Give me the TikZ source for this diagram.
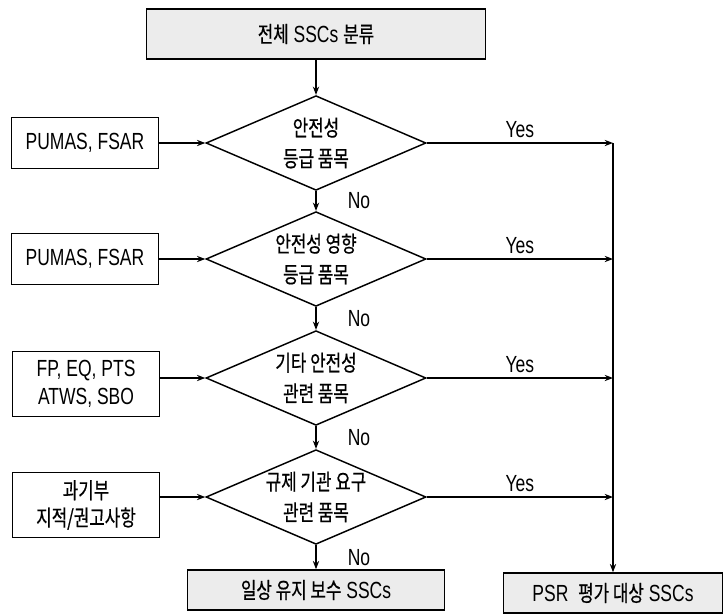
\documentclass[tikz,border=0pt]{standalone}
\usepackage{fontspec}
\setmainfont[FakeStretch=0.75]{Liberation Sans}
\newfontfamily\krfont[FakeStretch=0.76,Scale=0.95,FakeBold=0.6]{Noto Sans CJK KR}
\newcommand{\kr}[1]{{\krfont #1}}
\usetikzlibrary{arrows.meta, shapes.geometric}

\begin{document}
\begin{tikzpicture}[x=0.75pt, y=-0.75pt, >={Stealth[length=2.2mm]}, line width=1.1pt,
  every node/.style={font=\fontsize{17.5}{20.5}\selectfont, align=center},
  srcbox/.style={draw, minimum width=110pt, inner sep=2pt},
  endbox/.style={draw, fill=gray!15, minimum height=30pt},
  decide/.style={draw, diamond, aspect=2.3, minimum width=165pt, minimum height=71pt, inner sep=0pt, font=\fontsize{17.5}{23}\selectfont}]
  \useasboundingbox (0,0) rectangle (725,615);
  % top: the starting set
  \node[endbox, minimum width=254pt, minimum height=37.5pt] (all) at (316,34) {\kr{전체} SSCs \kr{분류}};
  % middle column: the four tests
  \node[decide] (q1) at (316,143) {\kr{안전성}\\\kr{등급 품목}};
  \node[decide] (q2) at (316,259) {\kr{안전성 영향}\\\kr{등급 품목}};
  \node[decide] (q3) at (316,378) {\kr{기타 안전성}\\\kr{관련 품목}};
  \node[decide] (q4) at (316,497) {\kr{규제 기관 요구}\\\kr{관련 품목}};
  % left column: what feeds each test
  \node[srcbox, minimum height=38pt] (s1) at (85,143) {PUMAS, FSAR};
  \node[srcbox, minimum height=38pt] (s2) at (85,259) {PUMAS, FSAR};
  \node[srcbox, minimum height=49pt] (s3) at (86,384) {FP, EQ, PTS\\ATWS, SBO};
  \node[srcbox, minimum height=49pt] (s4) at (86,505) {\kr{과기부}\\\kr{지적/권고사항}};
  % bottom row: the two outcomes
  \node[endbox, minimum width=193pt] (keep) at (316,590) {\kr{일상 유지 보수} SSCs};
  \node[endbox, minimum width=164pt] (psr)  at (613,593) {PSR~~\kr{평가 대상} SSCs};
  % joints on the Yes rail
  \coordinate (j1) at (613,143);
  \coordinate (j2) at (613,259);
  \coordinate (j3) at (613,378);
  \coordinate (j4) at (613,497);
  \draw[->] (all) -- (q1);
  \draw[->] (q1) -- node[right, xshift=20pt] {No} (q2);
  \draw[->] (q2) -- node[right, xshift=20pt] {No} (q3);
  \draw[->] (q3) -- node[right, xshift=20pt] {No} (q4);
  \draw[->] (q4) -- node[right, xshift=20pt] {No} (keep);
  \draw[->] (s1) -- (q1);
  \draw[->] (s2) -- (q2);
  \draw[->] (s3.east |- q3) -- (q3);
  \draw[->] (s4.east |- q4) -- (q4);
  \draw[->] (q1) -- node[above] {Yes} (j1);
  \draw[->] (q2) -- node[above] {Yes} (j2);
  \draw[->] (q3) -- node[above] {Yes} (j3);
  \draw[->] (q4) -- node[above] {Yes} (j4);
  \draw[->] (j1) -- (psr);
\end{tikzpicture}
\end{document}
